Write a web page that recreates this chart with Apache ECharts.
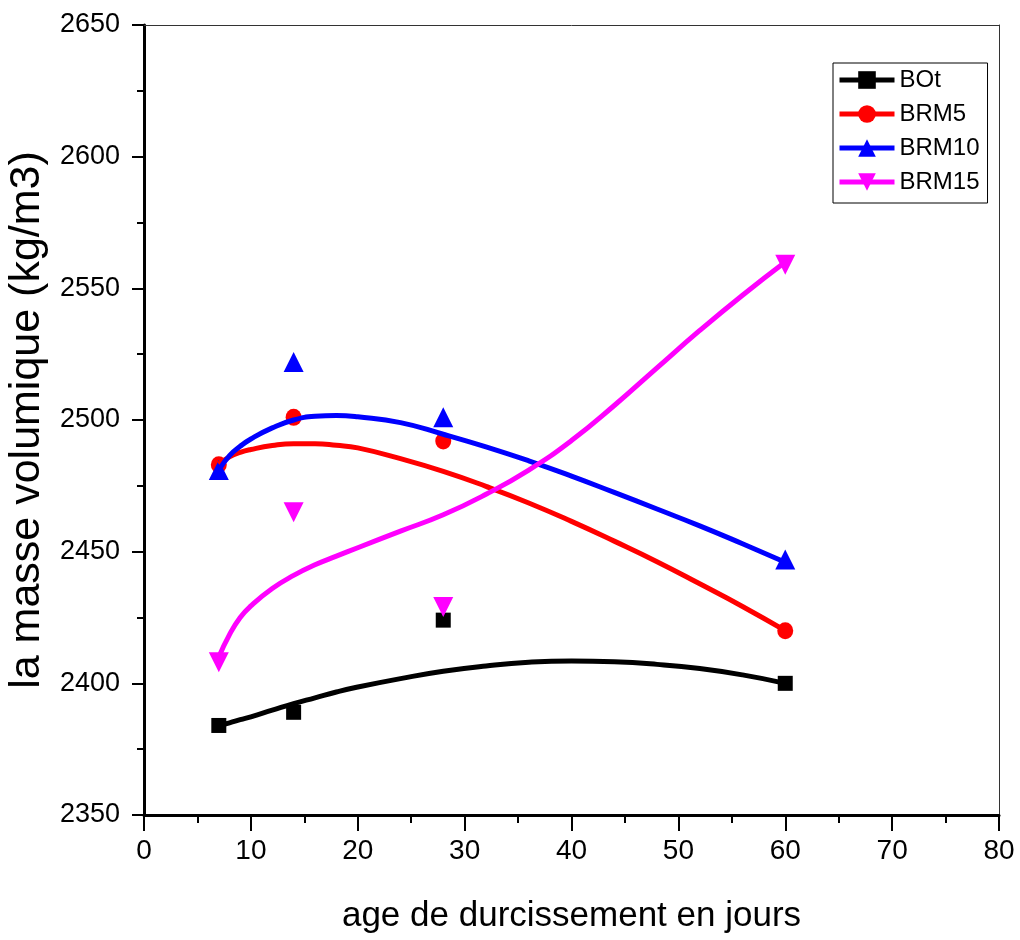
<!DOCTYPE html>
<html>
<head>
<meta charset="utf-8">
<script src="https://cdn.jsdelivr.net/npm/echarts@6/dist/echarts.min.js"></script>
<style>html,body{margin:0;padding:0;background:#fff}#c{width:1020px;height:940px}</style>
</head>
<body>
<div id="c"></div>
<script>
// measured points
const days = [7, 14, 28, 60];
const BOt = [2384, 2389, 2424, 2400];
const BRM5 = [2483, 2501, 2492, 2420];
const BRM10 = [2481, 2522, 2501, 2447];
const BRM15 = [2408, 2465, 2429, 2559];
// fitted curves
const fitX = [7, 8, 9, 10, 12, 14, 16, 18, 20, 24, 28, 32, 36, 40, 44, 48, 52, 56, 60];
const fitBOt = [2384, 2385, 2386.2, 2387.3, 2389.8, 2392.3, 2394.5, 2396.7, 2398.6, 2401.8, 2404.6, 2406.6, 2408, 2408.5, 2408.2, 2407.2, 2405.6, 2403.2, 2400];
const fitBRM5 = [2483.3, 2486, 2487.7, 2488.8, 2490.3, 2491, 2491, 2490.4, 2489.4, 2485.3, 2480.5, 2474.8, 2468.5, 2461.5, 2454, 2446.2, 2437.8, 2429.2, 2420];
const fitBRM10 = [2481, 2486.5, 2490, 2492.8, 2497, 2500, 2501.4, 2501.7, 2501.2, 2499, 2494.6, 2489.8, 2484.5, 2478.7, 2472.5, 2466.2, 2459.8, 2453, 2446];
const fitBRM15 = [2410, 2418.5, 2425, 2429.4, 2436, 2441, 2445, 2448.3, 2451.5, 2457.8, 2464, 2471.8, 2481, 2492.2, 2505.5, 2519.8, 2534, 2547.4, 2560];
const names = ['BOt', 'BRM5', 'BRM10', 'BRM15'];
const xTicks = {min: 0, max: 80, interval: 10};
const yTicks = {min: 2350, max: 2650, interval: 50};

const pts = [BOt, BRM5, BRM10, BRM15];
const fits = [fitBOt, fitBRM5, fitBRM10, fitBRM15];
const colors = ['#000000', '#ff0000', '#0000ff', '#ff00ff'];
const symbols = ['rect', 'circle', 'triangle', 'path://M0,0 L10,0 L5,10 Z'];
const sizes = [[15, 15], [16, 17], [20, 20], [20, 20]];

const series = [];
names.forEach((n, i) => {
  series.push({
    name: n, type: 'line', xAxisIndex: 0, yAxisIndex: 0,
    data: fitX.map((x, k) => [x, fits[i][k]]),
    smooth: 0.5, showSymbol: false, symbol: symbols[i], symbolSize: sizes[i],
    lineStyle: {color: colors[i], width: 5}, itemStyle: {color: colors[i]},
    silent: true, animation: false
  });
  series.push({
    name: n, type: 'scatter', xAxisIndex: 0, yAxisIndex: 0,
    data: days.map((d, k) => [d, pts[i][k]]),
    symbol: symbols[i], symbolSize: sizes[i],
    itemStyle: {color: colors[i], opacity: 1}, animation: false
  });
});

const font = 'Liberation Sans, Arial, sans-serif';
const chart = echarts.init(document.getElementById('c'));
chart.setOption({
  backgroundColor: '#ffffff',
  animation: false,
  grid: {left: 144, right: 21, top: 25, bottom: 125, containLabel: false, outerBoundsMode: 'none'},
  legend: {
    data: names, orient: 'vertical', left: 833, top: 63,
    itemWidth: 55, itemHeight: 22, itemGap: 10,
    padding: [5, 8, 9, 4],
    borderColor: '#000', borderWidth: 1, backgroundColor: '#fff',
    lineStyle: {width: 5},
    textStyle: {fontFamily: font, fontSize: 24, color: '#000', lineHeight: 24},
    selectedMode: false
  },
  xAxis: [{
    type: 'value', min: xTicks.min, max: xTicks.max, interval: xTicks.interval,
    name: 'age de durcissement en jours', nameLocation: 'middle', nameGap: 84,
    nameTextStyle: {fontFamily: font, fontSize: 35, color: '#000'},
    axisLine: {show: true, onZero: false, lineStyle: {color: '#000', width: 3}},
    axisTick: {show: true, inside: false, length: 16, lineStyle: {color: '#000', width: 2}},
    minorTick: {show: true, splitNumber: 2, length: 8, lineStyle: {color: '#000', width: 2}},
    axisLabel: {fontFamily: font, fontSize: 28, color: '#000', margin: 22},
    splitLine: {show: false}
  }, {
    type: 'value', position: 'top', min: xTicks.min, max: xTicks.max,
    axisLine: {show: true, onZero: false, lineStyle: {color: '#333', width: 1}},
    axisTick: {show: false}, axisLabel: {show: false}, splitLine: {show: false}
  }],
  yAxis: [{
    type: 'value', min: yTicks.min, max: yTicks.max, interval: yTicks.interval,
    name: 'la masse volumique (kg/m3)', nameLocation: 'middle', nameGap: 92,
    nameTextStyle: {fontFamily: font, fontSize: 43, color: '#000'},
    axisLine: {show: true, onZero: false, lineStyle: {color: '#000', width: 3}},
    axisTick: {show: true, inside: false, length: 12, lineStyle: {color: '#000', width: 2}},
    minorTick: {show: true, splitNumber: 2, length: 7, lineStyle: {color: '#000', width: 2}},
    axisLabel: {fontFamily: font, fontSize: 27, color: '#000', margin: 24, formatter: v => String(v)},
    splitLine: {show: false}
  }, {
    type: 'value', position: 'right', min: yTicks.min, max: yTicks.max,
    axisLine: {show: true, onZero: false, lineStyle: {color: '#333', width: 1}},
    axisTick: {show: false}, axisLabel: {show: false}, splitLine: {show: false}
  }],
  series: series
});
</script>
</body>
</html>
